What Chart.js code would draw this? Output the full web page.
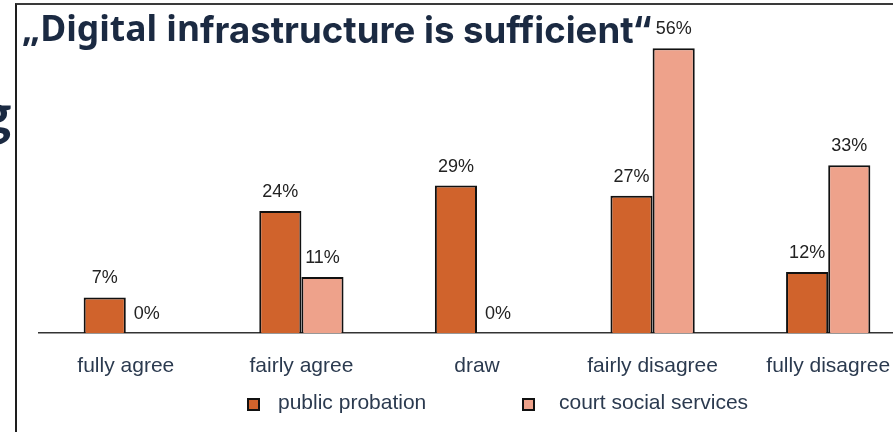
<!DOCTYPE html>
<html>
<head>
<meta charset="utf-8">
<script src="https://cdn.jsdelivr.net/npm/chart.js@4.4.1/dist/chart.umd.min.js"></script>
<style>
  html, body { margin: 0; padding: 0; background: #fff; }
  body { width: 893px; height: 432px; position: relative; overflow: hidden; }
  .frame { position: absolute; left: 15px; top: 3px; width: 900px; height: 440px;
           border-left: 2px solid #1e1e1e; border-top: 2px solid #3a3a3a; }
  .title { position: absolute; white-space: nowrap; color: #1b2a42; z-index: 2; line-height: 1; }
  .t1 { left: 22px; top: 10px; font-weight: bold; font-family: "Noto Sans", sans-serif; font-size: 35px; }
  .t2 { left: 200px; top: 11px; font-weight: bold; font-family: Inter, sans-serif; font-size: 37px; }
  .edge { position: absolute; left: -19px; top: 77px; font: bold 58px Lato, sans-serif; color: #1b2a42; }
  .wrap { position: absolute; left: 38px; top: 0; width: 878px; height: 432px; }
  .legend { position: absolute; top: 390px; left: 0; font: 21px "Liberation Sans", Arial, sans-serif; color: #2b3a4f; }
  .legend span.item { position: absolute; white-space: nowrap; }
  .legend i { position: absolute; top: 8px; width: 9px; height: 9px; border: 2px solid #111; }
</style>
</head>
<body>
<div class="edge">g</div>
<div class="frame"></div>
<div class="title t1" id="t1">„Digital in</div>
<div class="title t2" id="t2">frastructure is sufficient“</div>
<div class="wrap"><canvas id="myChart"></canvas></div>
<div class="legend" id="legend"></div>
<script>
const categories = ['fully agree', 'fairly agree', 'draw', 'fairly disagree', 'fully disagree'];
const seriesNames = ['public probation', 'court social services'];
const publicProbation = [7, 24, 29, 27, 12];
const courtSocialServices = [0, 11, 0, 56, 33];
const colors = ['#d0632c', '#eea28b'];

// squeeze the two title pieces to their widths
[['t1', 178], ['t2', 452]].forEach(([id, w]) => {
  const el = document.getElementById(id);
  const k = w / el.getBoundingClientRect().width;
  el.style.transform = 'scaleX(' + k.toFixed(3) + ')';
  el.style.transformOrigin = 'left top';
});

// value labels above every bar
const barLabels = {
  id: 'barLabels',
  afterDatasetsDraw(chart) {
    const ctx = chart.ctx;
    ctx.save();
    ctx.font = '18px "Liberation Sans", Arial, sans-serif';
    ctx.fillStyle = '#222';
    ctx.textAlign = 'center';
    ctx.textBaseline = 'middle';
    chart.data.datasets.forEach((ds, i) => {
      chart.getDatasetMeta(i).data.forEach((bar, j) => {
        ctx.fillText(ds.data[j] + '%', bar.x, bar.y - 19);
      });
    });
    ctx.restore();
  }
};

const ctx = document.getElementById('myChart').getContext('2d');
const myChart = new Chart(ctx, {
  type: 'bar',
  data: {
    labels: categories,
    datasets: [{
      label: seriesNames[0],
      data: publicProbation,
      backgroundColor: colors[0],
      borderColor: '#111',
      borderWidth: 2
    }, {
      label: seriesNames[1],
      data: courtSocialServices,
      backgroundColor: colors[1],
      borderColor: '#111',
      borderWidth: 2
    }]
  },
  options: {
    responsive: true,
    maintainAspectRatio: false,
    animation: false,
    layout: { padding: { top: 28, bottom: 39, left: 0, right: 0 } },
    datasets: { bar: { categoryPercentage: 0.48, barPercentage: 1 } },
    plugins: { legend: { display: false }, tooltip: { enabled: false } },
    scales: {
      x: {
        grid: { display: false },
        border: { color: '#333', width: 1.5 },
        ticks: { color: '#2b3a4f', padding: 13, font: { size: 21, family: '"Liberation Sans", Arial, sans-serif' } },
        afterFit(scale) { scale.height = 60; }
      },
      y: { display: false, min: 0, max: 60 }
    }
  },
  plugins: [barLabels]
});

// legend under the chart
const legend = document.getElementById('legend');
const legendX = [[247, 278], [522, 559]];
seriesNames.forEach((name, i) => {
  const box = document.createElement('i');
  box.style.left = legendX[i][0] + 'px';
  box.style.background = colors[i];
  legend.appendChild(box);
  const txt = document.createElement('span');
  txt.className = 'item';
  txt.style.left = legendX[i][1] + 'px';
  txt.textContent = name;
  legend.appendChild(txt);
});
</script>
</body>
</html>
